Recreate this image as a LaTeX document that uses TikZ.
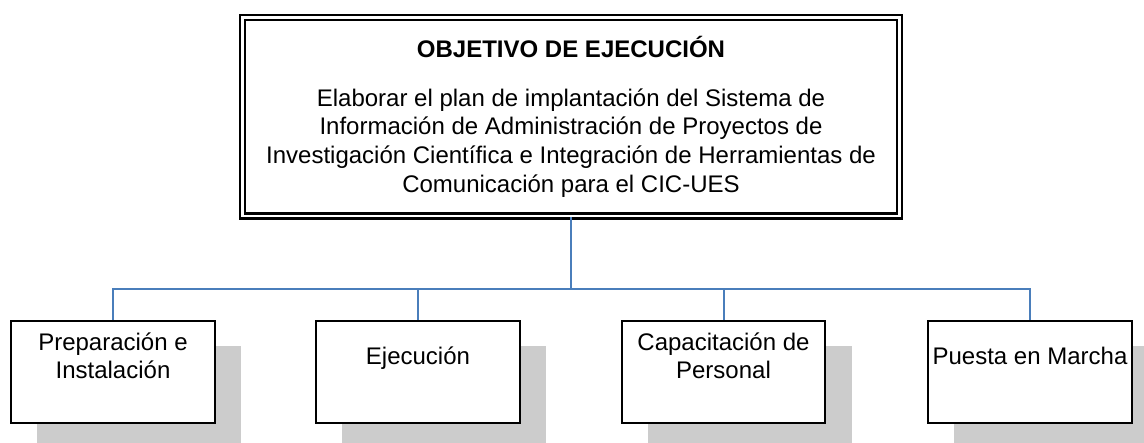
\documentclass[tikz,border=0pt]{standalone}
\usepackage{fontspec}
\setmainfont{Liberation Sans}
\definecolor{connblue}{RGB}{74,126,187}
\definecolor{shadowgray}{RGB}{204,204,204}
\tikzset{
  topbox/.style={draw=black, line width=2.2pt, double=white, double distance=2.8pt,
    minimum width=657pt, minimum height=198.5pt, inner sep=0pt, fill=white},
  subbox/.style={draw=black, line width=2pt, fill=white, minimum width=204pt,
    minimum height=102pt, inner sep=0pt},
  txt/.style={font=\fontsize{24}{28.8}\selectfont, align=center, inner sep=0pt},
  conn/.style={draw=connblue, line width=2pt},
  shadowfill/.style={fill=shadowgray}
}
\newcommand{\firststrut}{\rule{0pt}{18pt}}
\begin{document}
\begin{tikzpicture}[x=1pt,y=-1pt]
\clip (0,0) rectangle (1144,443);
\useasboundingbox (0,0) rectangle (1144,443);
% subordinate boxes positions
\coordinate (c1) at (113,372);
\coordinate (c2) at (418,372);
\coordinate (c3) at (723.5,372);
\coordinate (c4) at (1030,372);
% shadows
\foreach \i in {1,...,4}{
  \fill[shadowfill] ([shift={(-102+26,-51+25)}]c\i) rectangle ([shift={(102+26,51+25)}]c\i);
}
% top box
\node[topbox] (top) at (571,116.75) {};
\node[txt, font=\fontsize{24}{28.8}\selectfont\bfseries, anchor=base] (title) at (571,58) {OBJETIVO DE EJECUCIÓN};
\node[txt, anchor=north] (body) at (571,88) {\firststrut Elaborar el plan de implantación del Sistema de\\
Información de Administración de Proyectos de\\
Investigación Científica e Integración de Herramientas de\\
Comunicación para el CIC-UES};
% boxes
\node[subbox] (b1) at (c1) {};
\node[subbox] (b2) at (c2) {};
\node[subbox, minimum width=203pt] (b3) at (c3) {};
\node[subbox] (b4) at (c4) {};
\node[txt, anchor=north] (t1) at (113,332) {\firststrut Preparación e\\Instalación};
\node[txt, anchor=base] (t2) at (418,365) {Ejecución};
\node[txt, anchor=north] (t3) at (723.5,332) {\firststrut Capacitación de\\Personal};
\node[txt, anchor=base] (t4) at (1030,365) {Puesta en Marcha};
% connectors
\coordinate (j) at (571,289);
\draw[conn] (top.south) -- (j);
\draw[conn] (b1.north) |- (j) -| (b4.north);
\draw[conn] (b2.north) -- (b2.north |- j);
\draw[conn] (b3.north) -- (b3.north |- j);
\end{tikzpicture}
\end{document}
